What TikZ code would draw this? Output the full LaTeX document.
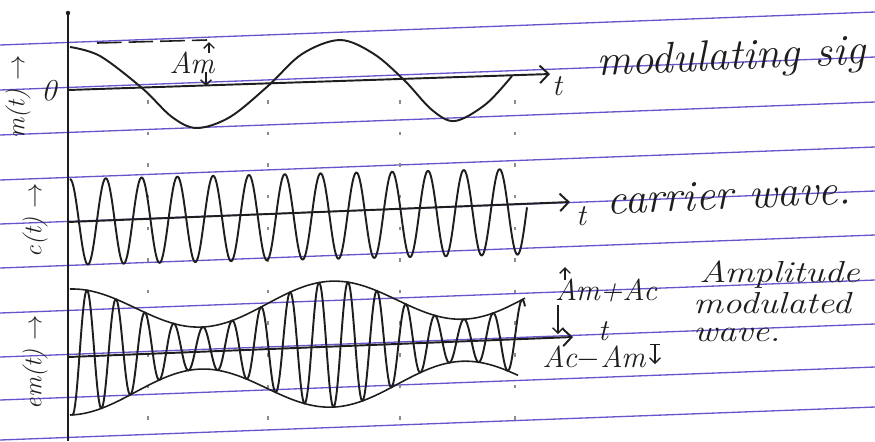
\documentclass[tikz,border=0pt]{standalone}
\definecolor{ruleblue}{RGB}{104, 84, 204}
\definecolor{pencil}{RGB}{30, 30, 30}
\usepackage{tikz}
\usetikzlibrary{arrows.meta, positioning}

\begin{document}
\begin{tikzpicture}[x=0.02cm, y=-0.02cm,
        ruled/.style={ruleblue, line width=0.75pt},
        wave/.style={pencil, line width=1.1pt, line join=round},
        axisline/.style={pencil, line width=1.1pt, -{Straight Barb[length=5pt]}},
        guide/.style={black!45, line width=0.6pt, dash pattern=on 2pt off 16pt},
        hand/.style={pencil, font=\Huge\itshape, inner sep=1pt},
        note/.style={pencil, font=\LARGE\itshape, inner sep=0pt, xscale=1.22,
                     anchor=base west},
        small/.style={pencil, font=\LARGE\itshape, inner sep=1pt},
        pointer/.style={pencil, line width=0.8pt, -{Straight Barb[length=3pt]}}
      ]
      \useasboundingbox (0,0) rectangle (875,441);
      % notebook page
      \foreach \ly in {45,90,135,180,224,268,313,357,400,440}
        \draw[ruled] (0,\ly) -- (875,\ly-33);
      \foreach \gx in {148,268,400,515}
        \draw[guide] (\gx,100) -- (\gx,441);
      % common time axis
      \coordinate (top) at (68,13);
      \coordinate (bot) at (68,441);
      \fill[pencil] (top) circle (2.2);
      \draw[wave] (top) -- (bot);

      % modulating signal
      \coordinate (o1) at (68,90);
      \coordinate (t1) at (550,74);
      \draw[axisline] (o1) -- (t1);
      \node[small] (t1lab) at (557,86) {t};
      \node[small] (zero) at (49,91) {0};
      \draw[wave] plot[smooth, tension=0.55] coordinates {(70,47) (100,56) (142,88)
            (172,117) (197,128) (230,117) (268,86) (302,54) (340,40) (374,54)
            (405,81) (432,110) (455,121) (486,104) (512,76)};
      \coordinate (am0) at (97,43);
      \coordinate (am1) at (207,40);
      \draw[pencil, line width=0.9pt, dash pattern=on 14pt off 4pt] (am0) -- (am1);
      \node[small] (amlab) at (192,63) {Am};
      \coordinate (amup0) at (209,53);
      \coordinate (amup) at (209,42);
      \coordinate (amdn0) at (206,72);
      \coordinate (amdn) at (206,86);
      \draw[pointer] (amup0) -- (amup);
      \draw[pointer] (amdn0) -- (amdn);
      \node[hand, rotate=2.5] (modlab) at (731,59) {modulating sig};
      \node[pencil, font=\Large\itshape, rotate=90] (mlab) at (18,97) {m(t) $\rightarrow$};

      % carrier
      \coordinate (o2) at (68,222);
      \coordinate (t2) at (570,202);
      \draw[axisline] (o2) -- (t2);
      \node[small] (t2lab) at (581,216) {t};
      \draw[wave] plot[domain=70:527, samples=400]
            (\x, {222 - 0.023*(\x-70) - 43*cos((\x-70)*10.056)});
      \node[hand, rotate=2.5] (carlab) at (729,195) {carrier wave.};
      \node[pencil, font=\Large\itshape, rotate=90] (clab) at (35,220) {c(t) $\rightarrow$};

      % amplitude modulated wave
      \coordinate (o3) at (68,357);
      \coordinate (t3) at (573,337);
      \draw[axisline] (o3) -- (t3);
      \node[small] (t3lab) at (603,331) {t};
      \draw[wave] plot[domain=72:525, samples=600]
            (\x, {352 - 0.03*(\x-70) - (42 + 21*cos((\x-70)*1.374))*cos((\x-87)*12.414)});
      \draw[wave, line width=0.9pt] plot[domain=70:525, samples=120]
            (\x, {352 - 0.03*(\x-70) - (42 + 21*cos((\x-70)*1.374))});
      \draw[wave, line width=0.9pt] plot[domain=70:518, samples=120]
            (\x, {352 - 0.03*(\x-70) + (42 + 21*cos((\x-70)*1.374))});
      \node[small] (maxlab) at (606,290) {Am+Ac};
      \node[small] (minlab) at (594,358) {Ac$-$Am};
      \coordinate (maxtip0) at (565,280);
      \coordinate (maxtip) at (565,267);
      \coordinate (axtip0) at (558,305);
      \coordinate (axtip) at (558,334);
      \draw[pointer] (maxtip0) -- (maxtip);
      \draw[pointer] (axtip0) -- (axtip);
      \coordinate (mintop) at (655,344);
      \coordinate (minbot) at (655,364);
      \draw[pencil, line width=0.8pt, |-{Straight Barb[length=3pt]}] (mintop) -- (minbot);
      \node[note] (amp1) at (699,282) {Amplitude};
      \node[note] (amp2) at (693,313) {modulated};
      \node[note] (amp3) at (693,341) {wave.};
      \node[pencil, font=\Large\itshape, rotate=90] (emlab) at (35,362) {em(t) $\rightarrow$};
    \end{tikzpicture}
\end{document}
